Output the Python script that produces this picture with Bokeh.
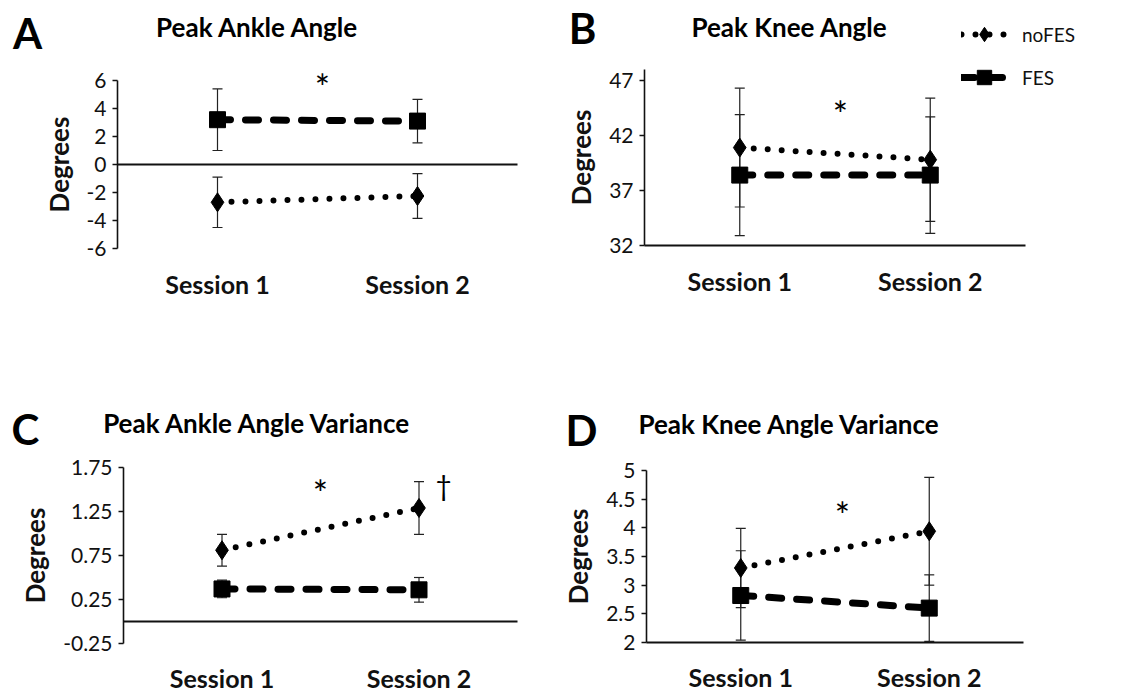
from bokeh.plotting import figure
from bokeh.models import (Range1d, FixedTicker, Whisker, ColumnDataSource,
                          Label, Legend, LegendItem, LinearAxis)
from bokeh.layouts import row, column
from bokeh.embed import file_html
from bokeh.resources import INLINE

# ---------------- data ----------------
sessions = ["Session 1", "Session 2"]
session_pos = [1, 2]
series_names = ["noFES", "FES"]

ankle_nofes = [-2.7, -2.25]
ankle_nofes_err = [1.8, 1.6]
ankle_fes = [3.2, 3.1]
ankle_fes_err = [2.2, 1.55]
ankle_ticks = [-6, -4, -2, 0, 2, 4, 6]
ankle_tick_labels = ["-6", "-4", "-2", "0", "2", "4", "6"]

knee_nofes = [40.9, 39.8]
knee_nofes_err = [5.4, 5.6]
knee_fes = [38.4, 38.4]
knee_fes_err = [5.5, 5.3]
knee_ticks = [32, 37, 42, 47]
knee_tick_labels = ["32", "37", "42", "47"]

ankle_var_nofes = [0.81, 1.29]
ankle_var_nofes_err = [0.18, 0.30]
ankle_var_fes = [0.37, 0.36]
ankle_var_fes_err = [0.10, 0.14]
ankle_var_ticks = [-0.25, 0.25, 0.75, 1.25, 1.75]
ankle_var_tick_labels = ["-0.25", "0.25", "0.75", "1.25", "1.75"]

knee_var_nofes = [3.30, 3.94]
knee_var_nofes_err = [0.69, 0.94]
knee_var_fes = [2.82, 2.60]
knee_var_fes_err = [0.78, 0.58]
knee_var_ticks = [2, 2.5, 3, 3.5, 4, 4.5, 5]
knee_var_tick_labels = ["2", "2.5", "3", "3.5", "4", "4.5", "5"]

FONT = "Lato"
INK = "#111111"


def make_panel(origin, size, frame, yr, ticks, tick_labels, zero_line,
               nofes, nofes_err, fes, fes_err, letter, title, letter_pos,
               title_pos, marks, sess_standoff):
    ox, oy = origin
    w, h = size
    L, R, T, B = frame
    x0, x1 = 0.5, 2.5
    y0, y1 = yr
    sx = (R - L) / (x1 - x0)
    sy = (B - T) / (y1 - y0)
    xr = Range1d(x0 - (L - ox) / sx, x1 + (ox + w - R) / sx)
    yrng = Range1d(y0 - (oy + h - B) / sy, y1 + (T - oy) / sy)
    p = figure(width=w, height=h, x_range=xr, y_range=yrng,
               output_backend="svg", toolbar_location=None,
               x_axis_location=None, y_axis_location=None, min_border=0)
    p.outline_line_color = None
    p.grid.visible = False
    p.background_fill_color = "white"
    p.border_fill_color = "white"

    # y axis
    ya = LinearAxis(fixed_location=x0, bounds=(y0, y1))
    ya.ticker = FixedTicker(ticks=ticks)
    ya.major_label_overrides = dict(zip(ticks, tick_labels))
    ya.minor_tick_line_color = None
    ya.major_tick_in = 0
    ya.major_tick_out = 5
    ya.major_tick_line_width = 1.3
    ya.axis_line_width = 1.6
    ya.axis_line_color = INK
    ya.major_tick_line_color = INK
    ya.major_label_text_font = FONT
    ya.major_label_text_font_size = "21px"
    ya.major_label_text_color = INK
    ya.major_label_standoff = 6
    ya.axis_label = "Degrees"
    ya.axis_label_text_font = FONT
    ya.axis_label_text_font_size = "26px"
    ya.axis_label_text_font_style = "bold"
    ya.axis_label_text_color = INK
    ya.axis_label_standoff = 9
    p.add_layout(ya, "left")

    # x axis (labels at the bottom of the plot area)
    xa = LinearAxis(fixed_location=y0, bounds=(x0, x1))
    xa.ticker = FixedTicker(ticks=session_pos)
    xa.major_label_overrides = dict(zip(session_pos, sessions))
    xa.minor_tick_line_color = None
    xa.major_tick_line_color = None
    xa.major_tick_in = 0
    xa.major_tick_out = 0
    xa.major_label_text_font = FONT
    xa.major_label_text_font_size = "25px"
    xa.major_label_text_font_style = "bold"
    xa.major_label_text_color = INK
    xa.major_label_standoff = sess_standoff
    if zero_line:
        xa.axis_line_color = None
        za = LinearAxis(fixed_location=0, bounds=(x0, x1))
        za.ticker = FixedTicker(ticks=[])
        za.major_tick_line_color = None
        za.minor_tick_line_color = None
        za.major_label_text_color = None
        za.axis_line_color = INK
        za.axis_line_width = 2
        p.add_layout(za, "below")
    else:
        xa.axis_line_color = INK
        xa.axis_line_width = 2
    p.add_layout(xa, "below")

    # error bars
    for vals, errs in ((nofes, nofes_err), (fes, fes_err)):
        src = ColumnDataSource(dict(x=session_pos,
                                    upper=[v + e for v, e in zip(vals, errs)],
                                    lower=[v - e for v, e in zip(vals, errs)]))
        wk = Whisker(source=src, base="x", upper="upper", lower="lower",
                     line_color="#222222", line_width=1.2)
        for head in (wk.upper_head, wk.lower_head):
            head.size = 10
            head.line_width = 1.2
            head.line_color = "#222222"
        p.add_layout(wk)

    # series
    l_nofes = p.line(session_pos, nofes, line_color="black", line_width=6,
                     line_dash="0 14", line_cap="round")
    s_nofes = p.scatter(session_pos, nofes, marker="diamond", size=19,
                        fill_color="black", line_color="black")
    l_fes = p.line(session_pos, fes, line_color="black", line_width=7,
                   line_dash="13 15", line_cap="round")
    s_fes = p.scatter(session_pos, fes, marker="square", size=16,
                      fill_color="black", line_color="black")

    def to_data(rx, ry):
        return x0 + (rx - L) / sx, y0 + (B - ry) / sy

    lx, ly = to_data(*letter_pos)
    p.add_layout(Label(x=lx, y=ly, text=letter, text_font=FONT,
                       text_font_size="42px", text_font_style="bold",
                       text_align="center", text_baseline="middle",
                       text_color="black"))
    tx, ty = to_data(*title_pos)
    p.add_layout(Label(x=tx, y=ty, text=title, text_font=FONT,
                       text_font_size="26px", text_font_style="bold",
                       text_align="center", text_baseline="middle",
                       text_color="black"))
    for txt, fs, (mx, my) in marks:
        dx, dy = to_data(mx, my)
        p.add_layout(Label(x=dx, y=dy, text=txt, text_font=FONT,
                           text_font_size=fs, text_align="center",
                           text_baseline="middle", text_color="black"))
    return p, (l_nofes, s_nofes, l_fes, s_fes)


pA, _ = make_panel((0, 0), (560, 400), (117, 517, 80, 248), (-6, 6),
                   ankle_ticks, ankle_tick_labels, True,
                   ankle_nofes, ankle_nofes_err, ankle_fes, ankle_fes_err,
                   "A", "Peak Ankle Angle", (27, 32), (257, 26),
                   [("*", "36px", (322, 86))], 20)

pB, rB = make_panel((560, 0), (576, 400), (644, 1025, 69, 245), (32, 48),
                    knee_ticks, knee_tick_labels, False,
                    knee_nofes, knee_nofes_err, knee_fes, knee_fes_err,
                    "B", "Peak Knee Angle", (582, 27), (789, 26),
                    [("*", "36px", (840, 113))], 20)

pC, _ = make_panel((0, 400), (560, 291), (123, 517, 467, 643), (-0.25, 1.75),
                   ankle_var_ticks, ankle_var_tick_labels, True,
                   ankle_var_nofes, ankle_var_nofes_err, ankle_var_fes,
                   ankle_var_fes_err,
                   "C", "Peak Ankle Angle Variance", (25, 428), (257, 422),
                   [("*", "36px", (320, 492)), ("†", "28px", (443, 484))], 19)

pD, _ = make_panel((560, 400), (576, 291), (646, 1023, 470, 642), (2, 5),
                   knee_var_ticks, knee_var_tick_labels, False,
                   knee_var_nofes, knee_var_nofes_err, knee_var_fes,
                   knee_var_fes_err,
                   "D", "Peak Knee Angle Variance", (581, 429), (789, 423),
                   [("*", "36px", (842, 514))], 19)

# legend in panel B (location = bottom-left corner, px from plot bottom-left)
legend = Legend(items=[LegendItem(label=series_names[0], renderers=[rB[0], rB[1]]),
                       LegendItem(label=series_names[1], renderers=[rB[2], rB[3]])],
                location=(401, 305))
legend.glyph_width = 46
legend.glyph_height = 36
legend.label_height = 20
legend.label_standoff = 15
legend.spacing = 7
legend.padding = 0
legend.margin = 0
legend.border_line_color = None
legend.background_fill_alpha = 0
legend.label_text_font = FONT
legend.label_text_font_size = "19px"
legend.label_text_color = INK
pB.add_layout(legend)

layout = column(row(pA, pB, spacing=0), row(pC, pD, spacing=0), spacing=0)
open("out.html", "w").write(file_html(layout, INLINE))
